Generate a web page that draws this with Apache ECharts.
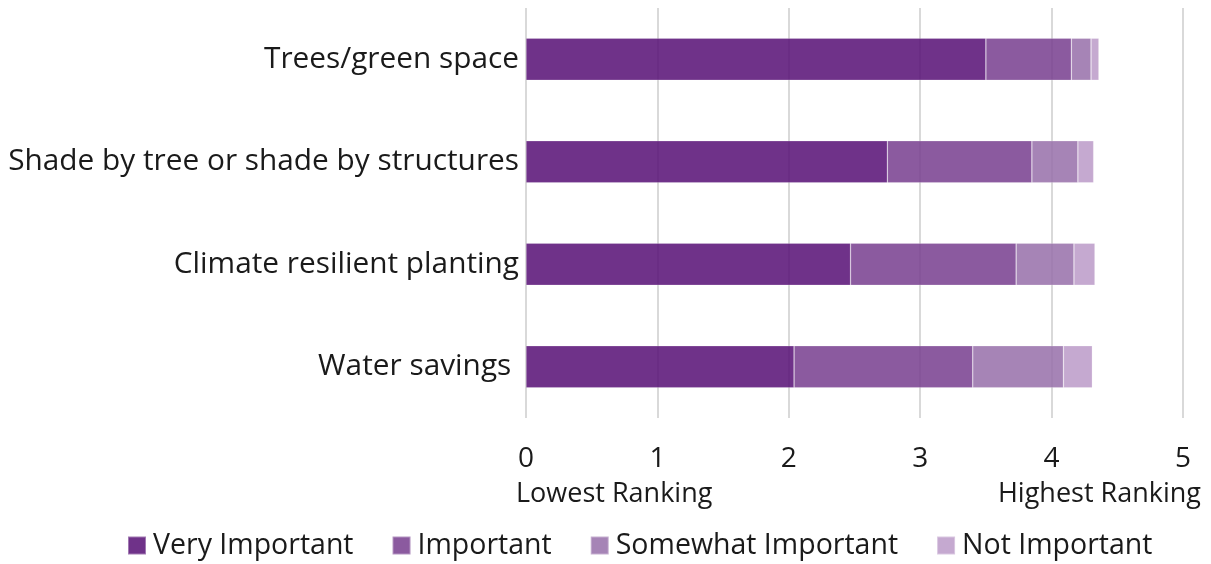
<!DOCTYPE html>
<html>
<head>
    <meta charset="utf-8">
    <title>Ranking chart</title>
    <script src="https://cdn.jsdelivr.net/npm/echarts@6/dist/echarts.min.js"></script>
    <style type="text/css">
        html, body { margin: 0; padding: 0; background: #ffffff; }
        #chart { width: 1211px; height: 564px; }
    </style>
</head>
<body>
<div id="chart"></div>
<script>
    // categories, bottom to top as drawn by a category y axis
    var categories = ['Water savings ', 'Climate resilient planting', 'Shade by tree or shade by structures', 'Trees/green space'];
    var seriesNames = ['Very Important', 'Important', 'Somewhat Important', 'Not Important'];
    var veryImportant = [2.04, 2.47, 2.75, 3.50];
    var important = [1.36, 1.26, 1.10, 0.65];
    var somewhatImportant = [0.69, 0.44, 0.35, 0.15];
    var notImportant = [0.22, 0.16, 0.12, 0.06];
    var tickLabels = ['0', '1', '2', '3', '4', '5'];

    var colors = ['rgba(86,14,116,0.85)', 'rgba(119,61,142,0.85)', 'rgba(151,110,169,0.85)', 'rgba(187,154,200,0.85)'];
    var fontFamily = '"Open Sans", Lato, sans-serif';

    var chart = echarts.init(document.getElementById('chart'));

    var values = [veryImportant, important, somewhatImportant, notImportant];
    var series = [];
    for (var i = 0; i < seriesNames.length; i++) {
        series.push({
            name: seriesNames[i],
            type: 'bar',
            stack: 'total',
            barWidth: '41%',
            data: values[i],
            itemStyle: {color: colors[i], borderColor: 'rgba(255,255,255,0.35)', borderWidth: 0.6},
            emphasis: {disabled: true}
        });
    }

    var option = {
        animation: false,
        grid: {left: 526, right: 28, top: 8, bottom: 146, containLabel: false},
        legend: {
            top: 526,
            left: 122,
            itemWidth: 18,
            itemHeight: 18,
            itemGap: 38,
            icon: 'rect',
            textStyle: {fontFamily: fontFamily, fontSize: 28.5, color: '#1a1a1a', padding: [0, 0, 0, 2]},
            data: seriesNames
        },
        xAxis: {
            type: 'value',
            min: 0,
            max: 5,
            interval: 1,
            axisLine: {show: false},
            axisTick: {show: false},
            splitLine: {show: true, lineStyle: {color: '#d9d9d9', width: 2}},
            axisLabel: {
                fontFamily: fontFamily, fontSize: 28, color: '#1a1a1a', margin: 27,
                formatter: function (v) { return tickLabels[v]; }
            }
        },
        yAxis: {
            type: 'category',
            data: categories,
            axisLine: {show: false},
            axisTick: {show: false},
            axisLabel: {fontFamily: fontFamily, fontSize: 29.8, color: '#1a1a1a', margin: 7}
        },
        graphic: [
            {type: 'text', left: 516, top: 481, style: {text: 'Lowest Ranking', fontFamily: fontFamily, fontSize: 27, fill: '#1a1a1a'}},
            {type: 'text', right: 10, top: 481, style: {text: 'Highest Ranking', fontFamily: fontFamily, fontSize: 27, fill: '#1a1a1a'}}
        ],
        series: series
    };

    chart.setOption(option);
</script>
</body>
</html>
